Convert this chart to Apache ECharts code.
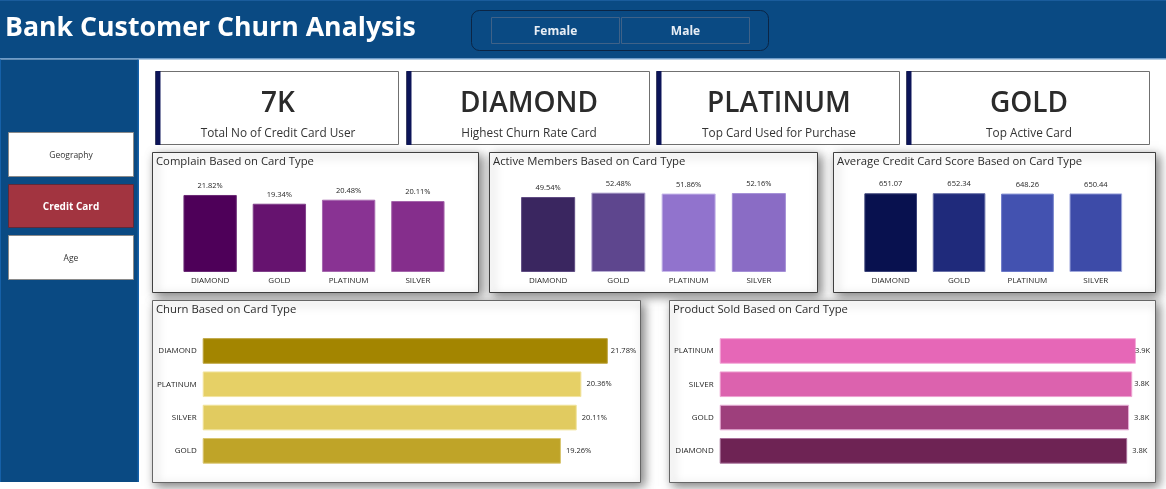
<!DOCTYPE html>
<html><head><meta charset="utf-8">
<script src="https://cdn.jsdelivr.net/npm/echarts@6/dist/echarts.min.js"></script>
<style>html,body{margin:0;padding:0;background:#fff;overflow:hidden}#c{width:1166px;height:489px}</style>
</head><body><div id="c"></div>
<script>
var cardTypesAlpha = ['DIAMOND','GOLD','PLATINUM','SILVER'];
var complainValues = [21.82,19.34,20.48,20.11];
var activeValues = [49.54,52.48,51.86,52.16];
var scoreValues = [651.07,652.34,648.26,650.44];
var churnCategories = ['DIAMOND','PLATINUM','SILVER','GOLD'];
var churnValues = [21.78,20.36,20.11,19.26];
var productCategories = ['PLATINUM','SILVER','GOLD','DIAMOND'];
var productValues = [3852,3818,3789,3771];
var kpiValues = ['7K','DIAMOND','PLATINUM','GOLD'];
var kpiLabels = ['Total No of Credit Card User','Highest Churn Rate Card','Top Card Used for Purchase','Top Active Card'];
var navLabels = ['Geography','Credit Card','Age'];
var genderLabels = ['Female','Male'];

var FONT = '"Open Sans","Noto Sans",sans-serif';
var BLUE = '#0a4a83';
var g = [];
function rect(x,y,w,h,fill,stroke,extra){
  var o = {type:'rect',silent:true,shape:{x:x,y:y,width:w,height:h,r:(extra&&extra.r)||0},
    style:Object.assign({fill:fill,stroke:stroke||null,lineWidth:stroke?1:0},extra&&extra.style||{}),z:(extra&&extra.z)||1};
  g.push(o);
}
function text(x,y,t,size,color,weight,align,z){
  g.push({type:'text',silent:true,z:z||5,x:x,y:y,style:{text:t,fontFamily:FONT,fontSize:size,fill:color,fontWeight:weight||400,align:align||'center',verticalAlign:'middle'}});
}
// header and sidebar
rect(0,0,1166,58,BLUE); rect(0,0,1166,1,'#1a5c9c');
rect(0,58,1166,1.5,'#6f9cc8');
rect(0,59.5,138,422.5,BLUE); rect(0,59.5,1,422.5,'#1560a8'); rect(137.5,59.5,1.5,422.5,'#1560a8');
text(5,28,'Bank Customer Churn Analysis',26.7,'#ffffff',700,'left');
// gender slicer
rect(471.5,10.5,297,40,BLUE,'#0b2545',{r:8});
[491.5,621.5].forEach(function(x,i){
  rect(x,17.5,128,26,BLUE,'#3f6288');
  text(x+64,31.5,genderLabels[i],12,'#e8eef5',700);
});
// navigation
var navY=[132.5,184.5,235.5];
navLabels.forEach(function(t,i){
  var on = i===1;
  rect(8.5,navY[i],125,i===1?43:44,on?'#a23440':'#ffffff',on?'#5e2a3a':'#8a8a8a');
  text(71,navY[i]+23,t,on?10:8.5,on?'#ffffff':'#333333',on?700:400);
});
// KPI cards
var kpiX=[155.5,406.5,656.5,906.5];
kpiValues.forEach(function(v,i){
  rect(kpiX[i],71.5,243,73,'#ffffff','#707070');
  rect(kpiX[i],71,5,74,'#0c1458',null,{z:2});
  text(kpiX[i]+122.5,104,v,28,'#2b2b2b',600);
  text(kpiX[i]+122.5,134,kpiLabels[i],11.8,'#333333',400);
});
// chart panels
function panel(x,y,w,h,title,border){
  rect(x+.5,y+.5,w,h,'#ffffff',border||'#404040',{style:{shadowBlur:10,shadowColor:'rgba(0,0,0,.5)',shadowOffsetX:3,shadowOffsetY:3}});
  text(x+4,y+10,title,11.3,'#2b2b2b',400,'left');
}
panel(152,152,326,140,'Complain Based on Card Type');
panel(489,152,328,140,'Active Members Based on Card Type');
panel(833,152,322,140,'Average Credit Card Score Based on Card Type');
panel(152,300,488,182,'Churn Based on Card Type','#666666');
panel(669,300,486,182,'Product Sold Based on Card Type','#666666');

var grids=[],xAxes=[],yAxes=[],series=[];
function colItems(vals,cols,borders){return vals.map(function(v,i){return {value:v,itemStyle:{color:cols[i],borderColor:borders[i],borderWidth:1}};});}
function addCol(left,width,maxV,height,cats,vals,cols,borders,fmt){
  var k=grids.length;
  grids.push({left:left,width:width,top:272-height,height:height});
  xAxes.push({gridIndex:k,z:6,type:'category',data:cats,axisLine:{show:false},axisTick:{show:false},
    axisLabel:{interval:0,fontFamily:FONT,fontSize:8,fontWeight:500,color:'#1f1f1f',margin:5}});
  yAxes.push({gridIndex:k,type:'value',min:0,max:maxV,show:false,splitLine:{show:false}});
  series.push({type:'bar',z:6,xAxisIndex:k,yAxisIndex:k,barCategoryGap:'23%',data:colItems(vals,cols,borders),animation:false,
    label:{show:true,position:'top',distance:5,fontFamily:FONT,fontSize:7.5,color:'#1f1f1f',formatter:fmt}});
}
function addRow(left,width,maxV,cats,vals,cols,borders,fmt,gaps){
  var k=grids.length;
  grids.push({left:left,width:width,top:334.3,height:133.2});
  xAxes.push({gridIndex:k,type:'value',min:0,max:maxV,show:false,splitLine:{show:false}});
  yAxes.push({gridIndex:k,z:6,type:'category',inverse:true,data:cats,axisLine:{show:false},axisTick:{show:false},
    axisLabel:{interval:0,fontFamily:FONT,fontSize:8,fontWeight:500,color:'#1f1f1f',margin:6}});
  series.push({type:'bar',z:6,xAxisIndex:k,yAxisIndex:k,barCategoryGap:'23%',animation:false,
    data:vals.map(function(v,i){return {value:v,itemStyle:{color:cols[i],borderColor:borders[i],borderWidth:1},label:{distance:gaps[i]}};}),
    label:{show:true,position:'right',fontFamily:FONT,fontSize:7.5,color:'#1f1f1f',formatter:fmt}});
}
var pct=function(p){return p.value.toFixed(2)+'%';};
addCol(175.5,277,25,88.25,cardTypesAlpha,complainValues,['#4e0059','#66136f','#893393','#852e8c'],['#6a2a75','#80408a','#a668ae','#a565ab'],pct);
addCol(513,281,60,90.8,cardTypesAlpha,activeValues,['#3a2660','#5e468e','#9173cd','#8a6cc5'],['#5f4c83','#b8aed4','#c8baea','#a48fd6'],pct);
addCol(856.5,273.5,700,84.6,cardTypesAlpha,scoreValues,['#08114f','#1f2a7b','#4352b0','#3d4ba8'],['#3a4278','#6870a8','#6a78c8','#a0a8dc'],function(p){return p.value.toFixed(2);});
addRow(202.7,427.8,23,churnCategories,churnValues,['#a38500','#e6d066','#e1cb60','#bfa428'],['#bda43f','#f2e4a0','#f0e39a','#d9c670'],pct,[3,5,5,5]);
addRow(719.7,432.2,4000,productCategories,productValues,['#e667b7','#dc62ae','#9e3f7c','#6e2354'],['#f4a8d8','#eea0d0','#e8b0d8','#a8709a'],function(p){return (p.value/1000).toFixed(1)+'K';},[-1,2,5,5]);

var chart=echarts.init(document.getElementById('c'),null,{renderer:'canvas'});
chart.setOption({animation:false,backgroundColor:'#ffffff',graphic:{elements:g},grid:grids,xAxis:xAxes,yAxis:yAxes,series:series});
</script></body></html>
